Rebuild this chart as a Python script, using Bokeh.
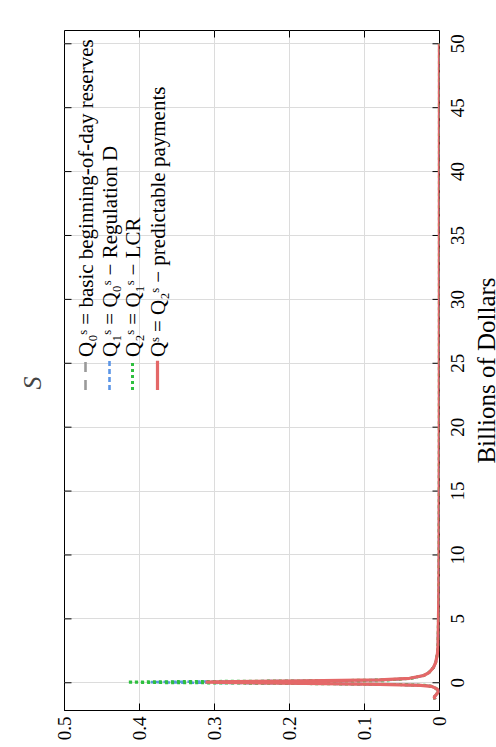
from math import pi
from bokeh.plotting import figure
from bokeh.layouts import row
from bokeh.models import Range1d, FixedTicker, Label, Title
from bokeh.core.properties import value
from bokeh.embed import file_html
from bokeh.resources import INLINE

# ---- data (billions of dollars on the vertical axis, density horizontal) ----
billions = [-1.3, -1.1, -0.9, -0.7, -0.55, -0.4, -0.28, -0.2, -0.13, -0.05, 0.02, 0.05,
            0.08, 0.15, 0.22, 0.35, 0.57, 0.8, 1.2, 1.6, 2.3, 3.0, 4.0, 5.0, 6.5, 8.0,
            10, 15, 20, 30, 40, 50]
dens_base = [0.006, 0.007, 0.004, 0.0015, 0.002, 0.006, 0.011, 0.02, 0.07, 0.17, 0.28, 0.30,
             0.28, 0.16, 0.07, 0.038, 0.021, 0.014, 0.008, 0.005, 0.0027, 0.002, 0.0017, 0.0014,
             0.001, 0.0008, 0.0006, 0.0004, 0.0003, 0.0002, 0.00015, 0.0001]
dens_regd = [0.006, 0.007, 0.004, 0.0015, 0.002, 0.006, 0.011, 0.02, 0.07, 0.19, 0.36, 0.385,
             0.35, 0.17, 0.07, 0.038, 0.021, 0.014, 0.008, 0.005, 0.0027, 0.002, 0.0017, 0.0014,
             0.001, 0.0008, 0.0006, 0.0004, 0.0003, 0.0002, 0.00015, 0.0001]
dens_lcr = [0.006, 0.007, 0.004, 0.0015, 0.002, 0.006, 0.011, 0.02, 0.06, 0.2, 0.39, 0.416,
            0.38, 0.17, 0.07, 0.038, 0.021, 0.014, 0.008, 0.005, 0.0027, 0.002, 0.0017, 0.0014,
            0.001, 0.0008, 0.0006, 0.0004, 0.0003, 0.0002, 0.00015, 0.0001]
dens_pred = [0.006, 0.007, 0.004, 0.0015, 0.002, 0.006, 0.011, 0.025, 0.08, 0.18, 0.29, 0.312,
             0.30, 0.18, 0.08, 0.04, 0.021, 0.014, 0.008, 0.005, 0.0027, 0.002, 0.0017, 0.0014,
             0.001, 0.0008, 0.0006, 0.0004, 0.0003, 0.0002, 0.00015, 0.0001]

series_labels = ["Q\u2080\u02e2 = basic beginning-of-day reserves",
                 "Q\u2081\u02e2 = Q\u2080\u02e2 \u2212 Regulation D",
                 "Q\u2082\u02e2 = Q\u2081\u02e2 \u2212 LCR",
                 "Q\u02e2 = Q\u2082\u02e2 \u2212 predictable payments"]
series_values = [dens_base, dens_regd, dens_lcr, dens_pred]
series_colors = ["#9a9a9a", "#5b95e6", "#2fbf3f", "#e46868"]
series_dash = ["10 8", "5 3", "3 3", "solid"]
series_width = [2.6, 2.6, 3.0, 3.2]

x_ticks = [0, 0.1, 0.2, 0.3, 0.4, 0.5]
x_tick_labels = ["0", "0.1", "0.2", "0.3", "0.4", "0.5"]
y_ticks = [0, 5, 10, 15, 20, 25, 30, 35, 40, 45, 50]
y_tick_labels = ["0", "5", "10", "15", "20", "25", "30", "35", "40", "45", "50"]
y_axis_title = "Billions of Dollars"
chart_title = "S"

FONT = "Liberation Serif"
TICK_FS = 19
X0, X1 = 0.5, 0.0          # density range (reversed)
Y0, Y1 = -2.17, 51.04      # billions range
FW, FH = 375, 680          # frame size in px
XPX = (X0 - X1) / FW       # data units per px
YPX = (Y1 - Y0) / FH

p = figure(width=476, height=747, output_backend="svg", toolbar_location=None,
           x_range=Range1d(X0, X1), y_range=Range1d(Y0, Y1),
           y_axis_location="right", x_axis_location="below",
           min_border_left=64, min_border_right=37, min_border_top=30, min_border_bottom=37)
p.background_fill_color = "white"
p.outline_line_color = "black"
p.outline_line_width = 1

# grids
p.xgrid.ticker = FixedTicker(ticks=x_ticks)
p.ygrid.ticker = FixedTicker(ticks=y_ticks)
for g in (p.xgrid[0], p.ygrid[0]):
    g.grid_line_color = "#dcdcdc"
    g.grid_line_width = 1

# bottom axis (density)
xa = p.xaxis[0]
xa.ticker = FixedTicker(ticks=x_ticks)
xa.major_label_overrides = {t: s for t, s in zip(x_ticks, x_tick_labels)}
xa.major_label_orientation = pi / 2
xa.major_label_text_font = FONT
xa.major_label_text_font_size = f"{TICK_FS}px"
xa.major_label_text_color = "black"
xa.major_tick_in = 7
xa.major_tick_out = 0
xa.minor_tick_line_color = None
xa.axis_line_color = "black"
xa.major_tick_line_color = "black"
xa.major_label_standoff = 6

# right axis: rotated labels start at their anchor, so anchor them half a label lower
half = [len(s) * 0.5 * TICK_FS / 2 * YPX for s in y_tick_labels]
label_pos = [t - h for t, h in zip(y_ticks, half)]
ya = p.yaxis[0]
ya.ticker = FixedTicker(ticks=label_pos)
ya.major_label_overrides = {pos: s for pos, s in zip(label_pos, y_tick_labels)}
ya.major_label_orientation = pi / 2
ya.major_label_text_font = FONT
ya.major_label_text_font_size = f"{TICK_FS}px"
ya.major_label_text_color = "black"
ya.major_label_standoff = 18
ya.major_tick_in = 0
ya.major_tick_out = 0
ya.major_tick_line_color = None
ya.minor_tick_line_color = None
ya.axis_line_color = None

# tick marks on all four sides, pointing inwards
tick_len_x = 7 * XPX
tick_len_y = 7 * YPX
p.segment(x0=[X1] * len(y_ticks), y0=y_ticks, x1=[X1 + tick_len_x] * len(y_ticks), y1=y_ticks,
          line_color="black", line_width=1)
p.segment(x0=[X0] * len(y_ticks), y0=y_ticks, x1=[X0 - tick_len_x] * len(y_ticks), y1=y_ticks,
          line_color="black", line_width=1)
p.segment(x0=x_ticks, y0=[Y1] * len(x_ticks), x1=x_ticks, y1=[Y1 - tick_len_y] * len(x_ticks),
          line_color="black", line_width=1)

# curves
for vals, col, dash, w in zip(series_values, series_colors, series_dash, series_width):
    p.line(vals, billions, line_color=col, line_dash=dash, line_width=w)

# legend (rotated, drawn manually)
leg_cols = [X0 - 21 * XPX, X0 - 45 * XPX, X0 - 68 * XPX, X0 - 93 * XPX]
for lx, txt, col, dash, w in zip(leg_cols, series_labels, series_colors, series_dash, series_width):
    p.segment(x0=[lx], y0=[22.9], x1=[lx], y1=[25.2], line_color=col, line_dash=dash, line_width=w)
    p.add_layout(Label(x=lx, y=25.5, text=txt, angle=pi / 2, text_align="left",
                       text_baseline="middle", text_font=FONT, text_font_size="21px",
                       text_color="black"))

# title on the left
t = Title(text=chart_title, text_font=FONT, text_font_size="26px", text_font_style="italic",
          align="left", vertical_align="top", offset=321, standoff=32)
p.add_layout(t, "left")

# narrow strip on the right carrying the rotated axis title
p2 = figure(width=20, height=747, output_backend="svg", toolbar_location=None,
            x_range=Range1d(0, 20), y_range=p.y_range,
            x_axis_location=None, y_axis_location=None,
            min_border_left=0, min_border_right=0, min_border_top=30, min_border_bottom=37)
p2.outline_line_color = None
p2.xgrid.visible = False
p2.ygrid.visible = False
p2.text(x=[9.5], y=[(Y0 + Y1) / 2], text=[y_axis_title], angle=pi / 2,
        text_align="center", text_baseline="middle", text_font=value(FONT),
        text_font_size="25px", text_color="black")

layout = row(p, p2, spacing=0)
open("out.html", "w").write(file_html(layout, INLINE))
